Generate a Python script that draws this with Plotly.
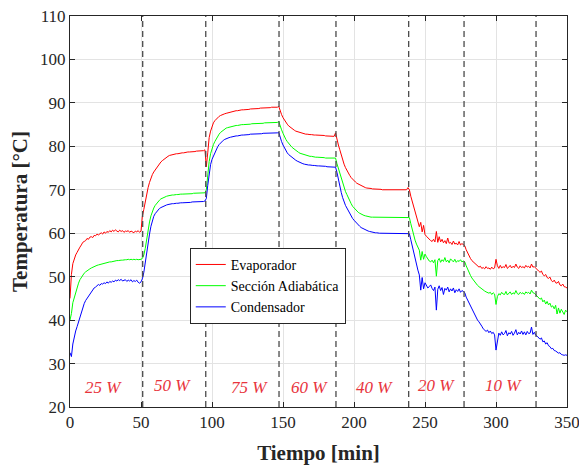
import plotly.graph_objects as go

tiempo = list(range(351))

evaporador = [
    45.0, 50.5, 53.0, 54.2, 55.0, 55.6, 56.4, 56.8, 57.3, 57.9, 58.1,
    58.3, 58.8, 58.6, 59.1, 59.2, 59.0, 59.5, 59.4, 59.8, 59.6,
    59.9, 60.1, 59.8, 60.3, 60.0, 60.4, 60.2, 60.6, 60.3, 60.7,
    60.4, 60.8, 60.5, 60.3, 60.7, 60.4, 60.6, 60.2, 60.5, 60.4,
    60.6, 60.2, 60.5, 60.3, 60.1, 60.5, 60.3, 60.6, 60.2, 60.5,
    64.0, 65.5, 67.5, 69.2, 70.5, 71.7, 72.7, 73.5, 74.1, 74.6,
    75.1, 75.6, 76.0, 76.4, 76.7, 77.0, 77.3, 77.5, 77.7, 77.9,
    78.0, 78.1, 78.2, 78.2, 78.3, 78.3, 78.4, 78.4, 78.5, 78.5,
    78.6, 78.6, 78.7, 78.7, 78.7, 78.8, 78.8, 78.8, 78.9, 78.9,
    78.9, 79.0, 79.0, 79.0, 79.2, 75.3, 78.5, 82.0, 83.5, 84.6,
    85.4, 85.9, 86.3, 86.6, 86.9, 87.1, 87.3, 87.4, 87.5, 87.6,
    87.7, 87.8, 87.9, 88.0, 88.0, 88.1, 88.2, 88.2, 88.3, 88.3,
    88.4, 88.4, 88.4, 88.5, 88.5, 88.5, 88.6, 88.6, 88.6, 88.7,
    88.7, 88.7, 88.7, 88.8, 88.8, 88.8, 88.8, 88.9, 88.9, 88.9,
    88.9, 89.0, 89.0, 89.0, 88.9, 89.0, 89.2, 88.0, 87.3, 86.6,
    86.0, 85.5, 85.1, 84.7, 84.4, 84.1, 83.9, 83.7, 83.5, 83.4,
    83.2, 83.1, 83.0, 82.9, 82.9, 82.8, 82.8, 82.7, 82.7, 82.7,
    82.6, 82.6, 82.6, 82.6, 82.5, 82.5, 82.5, 82.5, 82.5, 82.4,
    82.4, 82.4, 82.4, 82.4, 82.4, 82.3, 83.1, 81.5, 80.3, 79.2,
    78.0, 76.9, 75.9, 75.1, 74.4, 73.8, 73.3, 72.8, 72.4, 72.1,
    71.8, 71.5, 71.3, 71.1, 70.9, 70.8, 70.6, 70.5, 70.4, 70.4,
    70.3, 70.3, 70.2, 70.2, 70.2, 70.1, 70.1, 70.1, 70.1, 70.0,
    70.0, 70.0, 70.0, 70.0, 70.0, 70.0, 70.0, 70.0, 70.0, 70.0,
    70.0, 70.0, 70.0, 70.1, 70.0, 70.1, 70.0, 70.5, 70.0, 68.5,
    67.4, 66.2, 65.0, 63.5, 62.4, 61.5, 62.5, 60.3, 61.8, 59.7,
    59.3, 58.9, 58.5, 58.3, 58.1, 58.6, 58.0, 60.4, 57.9, 59.2,
    58.0, 58.6, 57.8, 58.3, 57.6, 58.9, 57.7, 57.9, 57.4, 58.2,
    57.5, 57.7, 57.3, 58.1, 57.3, 57.6, 57.4, 57.1, 56.2, 55.4,
    54.8, 54.2, 53.7, 53.4, 53.0, 52.8, 52.5, 52.2, 52.4, 51.9,
    52.1, 51.8, 52.3, 51.9, 52.0, 51.7, 52.2, 51.8, 52.0, 54.0,
    52.5, 51.9, 52.6, 52.0, 52.3, 52.1, 52.8, 51.9, 52.2, 52.6,
    52.0, 52.4, 52.1, 52.9, 52.2, 51.9, 52.5, 52.1, 52.3, 52.0,
    52.6, 52.2, 52.4, 52.0, 52.9, 52.2, 52.3, 51.9, 51.6, 51.3,
    51.0, 51.3, 50.5, 50.2, 50.5, 49.8, 49.6, 49.9, 49.1, 48.8,
    49.2, 48.6, 48.5, 48.9, 48.1, 47.9, 48.3, 47.7, 47.6, 47.4,
]

adiabatica = [
    40.0, 41.5, 44.0, 45.3, 46.5, 47.7, 48.5, 49.3, 49.9, 50.4, 50.8,
    51.1, 51.4, 51.6, 51.8, 52.0, 52.2, 52.3, 52.4, 52.6, 52.7,
    52.8, 52.9, 53.0, 53.1, 53.2, 53.2, 53.3, 53.4, 53.4, 53.5,
    53.6, 53.6, 53.7, 53.7, 53.8, 53.8, 53.8, 53.9, 53.9, 53.9,
    54.0, 53.9, 54.0, 53.9, 54.0, 53.9, 54.0, 53.9, 53.9, 54.0,
    54.2, 55.0, 56.5, 58.7, 60.7, 62.6, 64.0, 65.0, 65.8, 66.4,
    66.9, 67.3, 67.6, 67.9, 68.1, 68.3, 68.4, 68.5, 68.6, 68.7,
    68.7, 68.8, 68.8, 68.9, 68.9, 68.9, 69.0, 69.0, 69.0, 69.0,
    69.0, 69.1, 69.1, 69.1, 69.1, 69.1, 69.2, 69.2, 69.2, 69.2,
    69.2, 69.3, 69.3, 69.3, 69.3, 70.0, 73.5, 76.5, 78.3, 79.5,
    80.4, 81.1, 81.8, 82.3, 82.8, 83.2, 83.5, 83.8, 84.0, 84.2,
    84.3, 84.4, 84.5, 84.6, 84.7, 84.7, 84.8, 84.8, 84.9, 84.9,
    85.0, 85.0, 85.0, 85.1, 85.1, 85.1, 85.1, 85.2, 85.2, 85.2,
    85.2, 85.3, 85.3, 85.3, 85.3, 85.3, 85.4, 85.4, 85.4, 85.4,
    85.4, 85.4, 85.5, 85.5, 85.4, 85.5, 85.7, 84.5, 83.8, 83.0,
    82.2, 81.6, 81.1, 80.6, 80.2, 79.9, 79.6, 79.3, 79.0, 78.8,
    78.6, 78.4, 78.3, 78.1, 78.0, 77.9, 77.8, 77.8, 77.7, 77.7,
    77.6, 77.6, 77.5, 77.5, 77.5, 77.4, 77.4, 77.4, 77.4, 77.3,
    77.3, 77.3, 77.3, 77.3, 77.3, 77.3, 77.3, 76.0, 74.9, 73.8,
    72.6, 71.4, 70.3, 69.6, 68.9, 68.1, 67.4, 66.8, 66.2, 65.8,
    65.4, 65.1, 64.8, 64.6, 64.4, 64.2, 64.1, 64.0, 63.9, 63.8,
    63.8, 63.7, 63.7, 63.7, 63.6, 63.6, 63.6, 63.6, 63.6, 63.6,
    63.6, 63.6, 63.6, 63.6, 63.6, 63.6, 63.6, 63.6, 63.6, 63.6,
    63.6, 63.6, 63.6, 63.7, 63.6, 63.7, 63.6, 63.7, 63.6, 62.2,
    60.8, 59.5, 58.4, 57.5, 56.7, 56.1, 53.8, 55.8, 54.0, 55.2,
    54.6, 54.0, 53.6, 53.4, 53.8, 53.2, 53.9, 50.1, 53.7, 54.2,
    53.3, 53.9, 53.5, 54.4, 53.4, 53.8, 53.2, 54.1, 53.6, 53.4,
    54.0, 53.3, 53.7, 53.5, 53.9, 53.4, 53.6, 53.4, 52.5, 51.6,
    50.9, 50.3, 49.7, 49.2, 48.8, 48.4, 48.0, 47.7, 47.4, 47.2,
    46.9, 46.7, 46.5, 46.4, 46.2, 46.4, 45.9, 46.3, 46.0, 43.6,
    45.4, 46.1, 45.8, 46.4, 46.0, 45.9, 46.6, 45.8, 46.2, 46.5,
    45.9, 46.3, 46.0, 46.8, 46.1, 45.9, 46.4, 46.1, 46.3, 45.9,
    46.5, 46.2, 46.4, 46.0, 46.9, 46.3, 46.2, 45.8, 45.5, 45.0,
    44.8, 45.1, 44.2, 44.6, 43.7, 44.3, 43.5, 43.9, 43.0, 43.3,
    42.6, 43.4, 41.4, 42.8, 41.6, 42.5, 42.0, 41.3, 42.3, 41.9,
]

condensador = [
    32.5, 31.6, 34.5, 36.2, 37.5, 38.5, 39.6, 40.5, 42.0, 43.0, 43.8,
    44.5, 45.0, 45.6, 46.0, 46.5, 47.0, 47.4, 47.6, 48.0, 48.2,
    48.0, 48.4, 48.3, 48.6, 48.4, 48.8, 48.5, 48.9, 48.7, 49.0,
    48.8, 49.2, 49.0, 49.3, 49.1, 49.4, 49.0, 49.2, 49.3, 48.9,
    49.2, 49.0, 49.3, 48.8, 49.1, 48.9, 49.2, 48.7, 48.5, 48.8,
    49.5, 51.0, 53.5, 56.0, 57.8, 59.8, 61.6, 63.0, 63.9, 64.5,
    65.0, 65.4, 65.7, 65.9, 66.1, 66.3, 66.4, 66.5, 66.6, 66.7,
    66.7, 66.8, 66.8, 66.9, 66.9, 66.9, 67.0, 67.0, 67.0, 67.0,
    67.0, 67.1, 67.1, 67.1, 67.1, 67.2, 67.2, 67.2, 67.2, 67.2,
    67.3, 67.3, 67.3, 67.3, 67.4, 68.0, 71.0, 73.8, 75.8, 77.0,
    77.8, 78.6, 79.3, 79.9, 80.4, 80.8, 81.1, 81.4, 81.6, 81.8,
    81.9, 82.0, 82.1, 82.2, 82.3, 82.3, 82.4, 82.4, 82.5, 82.5,
    82.6, 82.6, 82.6, 82.7, 82.7, 82.7, 82.8, 82.8, 82.8, 82.8,
    82.9, 82.9, 82.9, 82.9, 82.9, 83.0, 83.0, 83.0, 83.0, 83.0,
    83.0, 83.1, 83.1, 83.1, 83.0, 83.1, 83.2, 82.0, 81.1, 80.3,
    79.6, 79.0, 78.5, 78.1, 77.8, 77.5, 77.2, 77.0, 76.8, 76.6,
    76.4, 76.2, 76.1, 76.0, 75.9, 75.8, 75.8, 75.7, 75.7, 75.6,
    75.6, 75.6, 75.5, 75.5, 75.5, 75.5, 75.4, 75.4, 75.4, 75.4,
    75.3, 75.3, 75.3, 75.3, 75.3, 75.3, 75.2, 74.0, 72.3, 70.7,
    69.4, 68.2, 67.1, 66.4, 65.8, 65.1, 64.5, 63.9, 63.4, 63.0,
    62.6, 62.2, 61.9, 61.6, 61.3, 61.1, 60.9, 60.7, 60.6, 60.5,
    60.4, 60.3, 60.2, 60.2, 60.1, 60.1, 60.0, 60.0, 60.0, 60.0,
    60.0, 60.0, 60.0, 60.0, 60.0, 60.0, 60.0, 60.0, 60.0, 60.0,
    60.0, 60.0, 60.0, 60.0, 60.0, 60.0, 60.0, 60.0, 59.9, 58.5,
    57.0, 55.5, 54.0, 52.6, 51.5, 50.4, 46.9, 49.8, 47.2, 48.6,
    48.0, 47.4, 47.7, 48.1, 47.3, 46.8, 47.6, 42.3, 47.1, 47.9,
    46.8, 47.5, 45.9, 47.3, 46.9, 47.6, 46.5, 47.2, 46.7, 47.4,
    46.3, 47.0, 46.6, 47.2, 46.4, 46.8, 46.6, 46.3, 45.3, 44.6,
    44.0, 43.3, 42.6, 41.9, 41.3, 40.8, 40.0, 39.6, 38.9, 38.6,
    38.0, 37.8, 37.4, 37.7, 37.1, 37.5, 36.9, 37.2, 36.6, 33.1,
    35.6, 37.0, 36.5, 37.3, 36.6, 36.9, 37.6, 36.4, 37.1, 36.8,
    37.4, 36.5, 37.0, 37.8, 36.6, 37.2, 36.8, 37.5, 36.7, 37.3,
    36.6, 37.4, 36.9, 37.0, 38.4, 36.7, 37.2, 36.5, 36.3, 35.9,
    35.6, 35.9, 35.0, 35.2, 34.5, 34.8, 34.1, 33.9, 33.4, 33.5,
    33.0, 32.9, 32.7, 32.4, 32.5, 32.1, 32.0, 31.9, 32.0, 31.9,
]

cambios = [51.2, 95.6, 147.2, 187.3, 238.5, 277.5, 328.2]
potencias = ["25 W", "50 W", "75 W", "60 W", "40 W", "20 W", "10 W"]
pos_potencia = [23.5, 72.5, 126.5, 169.0, 214.5, 258.0, 305.5]
y_potencia = [24.4, 25.0, 24.6, 24.6, 24.6, 25.0, 25.0]

series = [
    ("Evaporador", evaporador, "#FF0000"),
    ("Sección Adiabática", adiabatica, "#00FF00"),
    ("Condensador", condensador, "#0000FF"),
]

SERIF = "Liberation Serif"
fig = go.Figure()
for name, vals, col in series:
    fig.add_trace(go.Scatter(x=tiempo[:len(vals)], y=vals, mode="lines", name=name,
                             line=dict(color=col, width=1)))

for c in cambios:
    fig.add_shape(type="line", x0=c, x1=c, y0=20, y1=110, xref="x", yref="y",
                  line=dict(color="#4a4a4a", width=1.3, dash="6px,4px"))

for txt, px, py in zip(potencias, pos_potencia, y_potencia):
    fig.add_annotation(x=px, y=py, text=txt, showarrow=False, xref="x", yref="y",
                       font=dict(family=SERIF, size=17, color="#E8343C", style="italic"))

axis_common = dict(showline=True, linecolor="#262626", linewidth=1, mirror="ticks",
                   ticks="inside", ticklen=5, tickcolor="#262626", automargin=False,
                   ticklabeloverflow="allow",
                   showgrid=True, gridcolor="#E3E3E3", gridwidth=1, zeroline=False,
                   tickfont=dict(family=SERIF, size=17, color="#262626"))

# the page body adds an 8px offset, so the figure is sized to fit the window
fig.update_layout(
    width=579, height=458,
    margin=dict(l=62, r=20, t=8, b=59),
    paper_bgcolor="white", plot_bgcolor="white",
    showlegend=True,
    legend=dict(x=0.241, y=0.407, xanchor="left", yanchor="top",
                bgcolor="white", bordercolor="#262626", borderwidth=1,
                font=dict(family=SERIF, size=14, color="#000000"),
                tracegroupgap=0, itemwidth=30),
    xaxis=dict(range=[0, 350], tickvals=[0, 50, 100, 150, 200, 250, 300, 350],
               title=dict(text="<b>Tiempo [min]</b>", standoff=13,
                          font=dict(family=SERIF, size=21, color="#262626")),
               **axis_common),
    yaxis=dict(range=[20, 110], tickvals=[20, 30, 40, 50, 60, 70, 80, 90, 100, 110],
               title=dict(text="<b>Temperatura [°C]</b>", standoff=8,
                          font=dict(family=SERIF, size=21, color="#262626")),
               **axis_common),
)

fig.write_html("out.html")
